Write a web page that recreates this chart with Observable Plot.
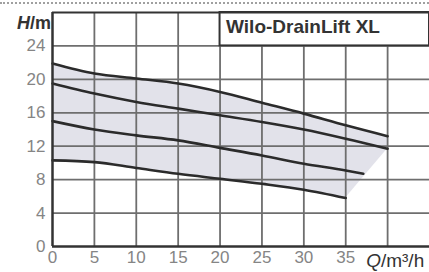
<!DOCTYPE html>
<html><head><meta charset="utf-8">
<script src="https://cdn.jsdelivr.net/npm/d3@7"></script>
<script src="https://cdn.jsdelivr.net/npm/@observablehq/plot@0.6"></script>
<style>
html,body{margin:0;padding:0;background:#fff;}
#wrap{position:relative;width:429px;height:272px;overflow:hidden;}
#dots{position:absolute;left:0;top:2px;width:429px;border-top:2px dotted #a0a0a0;}
</style></head><body><div id="wrap"><div id="dots"></div></div>
<script>
const title = "Wilo-DrainLift XL";
const yTicks = [0, 4, 8, 12, 16, 20, 24];
const xTicks = [0, 5, 10, 15, 20, 25, 30, 35];
const xGrid = [5, 10, 15, 20, 25, 30, 35, 40];
const yGrid = [4, 8, 12, 16, 20, 24];
// curves (Q in m³/h, H in m)
const q1 = [0, 5, 10, 15, 20, 25, 30, 35, 40];
const h1 = [21.9, 20.7, 20.1, 19.5, 18.5, 17.2, 15.9, 14.5, 13.2];
const q2 = [0, 5, 10, 15, 20, 25, 30, 35, 40];
const h2 = [19.5, 18.3, 17.3, 16.5, 15.7, 14.9, 14.0, 12.9, 11.7];
const q3 = [0, 5, 10, 15, 20, 25, 30, 35, 37.1];
const h3 = [15.0, 14.0, 13.3, 12.7, 11.8, 10.9, 9.9, 9.1, 8.7];
const q4 = [0, 5, 10, 15, 20, 25, 30, 35];
const h4 = [10.3, 10.1, 9.4, 8.7, 8.1, 7.5, 6.8, 5.8];

const curves = [[q1, h1], [q2, h2], [q3, h3], [q4, h4]];
const lineData = curves.flatMap(([q, h], i) => q.map((x, j) => ({id: i, x, y: h[j]})));
// operating field: between top and bottom curves, closed by the line from end of bottom curve to end of curve 2
const areaMain = q4.map((x, j) => ({x, lo: h4[j], hi: h1[j]}));
const areaTail = [
  {x: q4[q4.length - 1], lo: h4[h4.length - 1], hi: h1[q4.length - 1]},
  {x: q2[q2.length - 1], lo: h2[h2.length - 1], hi: h1[h1.length - 1]}
];
const xDomain = [0, 45], yDomain = [0, 28];
const box = [{x1: 20, x2: 45, y1: 24, y2: 28}];
const font = "Liberation Sans, Arial, sans-serif";

const chart = Plot.plot({
  width: 429, height: 272,
  marginLeft: 52, marginRight: 0, marginTop: 12, marginBottom: 26,
  x: {domain: xDomain},
  y: {domain: yDomain},
  style: {fontFamily: font, background: "transparent"},
  marks: [
    Plot.areaY(areaMain, {x: "x", y1: "lo", y2: "hi", fill: "#e2e2ea", curve: "monotone-x"}),
    Plot.areaY(areaTail, {x: "x", y1: "lo", y2: "hi", fill: "#e2e2ea"}),
    Plot.ruleX(xGrid, {stroke: "#6e6e6e", strokeWidth: 1.8, y1: 0, y2: 28}),
    Plot.ruleY(yGrid, {stroke: "#6e6e6e", strokeWidth: 1.8}),
    Plot.rect(box, {x1: "x1", x2: "x2", y1: "y1", y2: "y2", fill: "white", stroke: "#333", strokeWidth: 2}),
    Plot.ruleY([28], {stroke: "#333", strokeWidth: 2.2}),
    Plot.line(lineData, {x: "x", y: "y", z: "id", stroke: "#2b2b2b", strokeWidth: 2.6, curve: "monotone-x"}),
    Plot.ruleX([0], {stroke: "#333", strokeWidth: 2.5}),
    Plot.ruleY([0], {stroke: "#333", strokeWidth: 2.5}),
    Plot.axisY(yTicks, {tickSize: 0, tickPadding: 7, fontSize: 17, fill: "#858585", label: null}),
    Plot.axisX(xTicks, {tickSize: 0, tickPadding: 4, fontSize: 17, fill: "#858585", label: null}),
    Plot.text([title], {x: 20, y: 26.3, dx: 6, textAnchor: "start", fontSize: 19, fontWeight: "bold", fill: "#333"})
  ]
});
document.getElementById("wrap").prepend(chart);

const svg = d3.select(chart);
const sx = chart.scale("x");
const t1 = svg.append("text").attr("x", 51).attr("y", 29).attr("text-anchor", "end")
  .attr("font-size", 18).attr("font-weight", "bold").attr("fill", "#333").attr("font-family", font);
t1.append("tspan").attr("font-style", "italic").text("H");
t1.append("tspan").text("/m");
const t2 = svg.append("text").attr("x", sx.apply(37.5)).attr("y", 267).attr("text-anchor", "start")
  .attr("font-size", 19).attr("fill", "#333").attr("font-family", font);
t2.append("tspan").attr("font-style", "italic").text("Q");
t2.append("tspan").text("/m³/h");
</script></body></html>
